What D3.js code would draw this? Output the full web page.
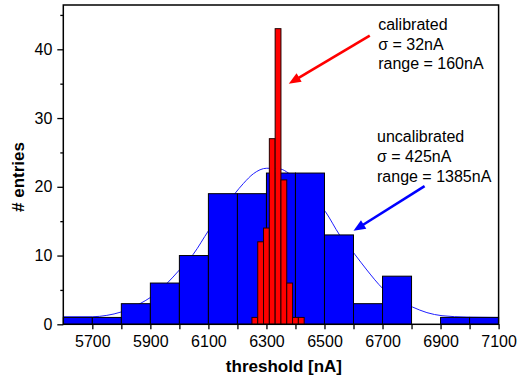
<!DOCTYPE html>
<html><head><meta charset="utf-8">
<script src="https://cdn.jsdelivr.net/npm/d3@7"></script>
<style>body{margin:0;background:#fff}svg{display:block}text{font-family:"Liberation Sans",Arial,sans-serif}</style>
</head><body><svg id="c" width="517" height="379"></svg>
<script>
// uncalibrated histogram: bin starts (nA), width 100
const blueBins = [5600,5700,5800,5900,6000,6100,6200,6300,6400,6500,6600,6700,6800,6900,7000];
const blueCounts = [1,1,3,6,10,19,19,22,22,13,3,7,0,1,1];
// calibrated histogram: bin starts (nA), width 20
const redBins = [6250,6270,6290,6310,6330,6350,6370,6390,6410];
const redCounts = [1,12,14,27,43,21,6,1,1];
// gaussian fit curve
const fitX = [5600,5700,5750,5800,5864,5900,5956,6000,6048,6100,6150,6191,6221,6255,6301,6347,6376,6420,6460,6503,6552,6604,6646,6701,6750,6804,6853,6905,6991,7100];
const fitY = [1.1,1.1,1.3,1.8,3.0,3.9,5.9,7.9,10.2,13.6,16.6,19.0,20.5,21.9,22.7,22.6,22.0,20.4,18.6,16.4,13.0,10.2,7.9,5.2,3.6,2.5,1.7,1.25,1.05,1.0];
const xTickLabels = [5700,5900,6100,6300,6500,6700,6900,7100];
const xMinorTicks = [5800,6000,6200,6400,6600,6800,7000];
const yTickLabels = [0,10,20,30,40];
const yMinorTicks = [5,15,25,35,45];
const blueWidth = 100, redWidth = 20;

const svg = d3.select("#c");
const L = 63.3, R = 498.6, T = 5, B = 324.3;
const x = d3.scaleLinear().domain([5600,7100]).range([L,R]);
const y = d3.scaleLinear().domain([0,40]).range([B,49.3]);

// fit curve (behind bars)
const line = d3.line().x(d=>x(d[0])).y(d=>y(d[1])).curve(d3.curveMonotoneX);
svg.append("path").datum(fitX.map((v,i)=>[v,fitY[i]]))
  .attr("d",line).attr("fill","none").attr("stroke","#1f1fff").attr("stroke-width",1);

// blue bars
svg.append("g").selectAll("rect").data(blueBins.map((b,i)=>({b,c:blueCounts[i]})).filter(d=>d.c>0))
  .join("rect")
  .attr("x",d=>x(d.b)).attr("width",d=>x(d.b+blueWidth)-x(d.b))
  .attr("y",d=>y(d.c)).attr("height",d=>y(0)-y(d.c))
  .attr("fill","#0000ff").attr("stroke","#000").attr("stroke-width",1);

// red bars
svg.append("g").selectAll("rect").data(redBins.map((b,i)=>({b,c:redCounts[i]})))
  .join("rect")
  .attr("x",d=>x(d.b)).attr("width",d=>x(d.b+redWidth)-x(d.b))
  .attr("y",d=>y(d.c)).attr("height",d=>y(0)-y(d.c))
  .attr("fill","#ff0000").attr("stroke","#200000").attr("stroke-width",1);

// frame
svg.append("rect").attr("x",L).attr("y",T).attr("width",R-L).attr("height",B-T)
  .attr("fill","none").attr("stroke","#000").attr("stroke-width",1.5);

// x axis
const xAxis = d3.axisBottom(x).tickValues(xTickLabels).tickSize(5).tickPadding(6).tickFormat(d3.format("d"));
const gx = svg.append("g").attr("transform",`translate(0,${B})`).call(xAxis);
gx.select(".domain").remove();
gx.selectAll("text").attr("font-size",16).attr("fill","#000").attr("font-family","Liberation Sans, Arial, sans-serif");
gx.selectAll("line").attr("stroke-width",1.3);
const gxm = svg.append("g").attr("transform",`translate(0,${B})`).call(d3.axisBottom(x).tickValues(xMinorTicks).tickSize(5).tickFormat(""));
gxm.select(".domain").remove();
gxm.selectAll("line").attr("stroke-width",1.3);

// y axis
const yAxis = d3.axisLeft(y).tickValues(yTickLabels).tickSize(6).tickPadding(5);
const gy = svg.append("g").attr("transform",`translate(${L},0)`).call(yAxis);
gy.select(".domain").remove();
gy.selectAll("text").attr("font-size",16).attr("fill","#000").attr("font-family","Liberation Sans, Arial, sans-serif");
gy.selectAll("line").attr("stroke-width",1.3);
const gym = svg.append("g").attr("transform",`translate(${L},0)`).call(d3.axisLeft(y).tickValues(yMinorTicks).tickSize(3).tickFormat(""));
gym.select(".domain").remove();
gym.selectAll("line").attr("stroke-width",1.3);

// axis titles
svg.append("text").attr("x",(L+R)/2+3).attr("y",372).attr("text-anchor","middle")
  .attr("font-size",17).attr("font-weight","bold").text("threshold [nA]");
svg.append("text").attr("transform",`translate(23.5,177) rotate(-90)`).attr("text-anchor","middle")
  .attr("font-size",17).attr("font-weight","bold").text("# entries");

// annotations
function arrow(x1,y1,x2,y2,color){
  const dx=x2-x1, dy=y2-y1, len=Math.hypot(dx,dy), ux=dx/len, uy=dy/len;
  const hl=12, hw=5;
  const bx=x2-ux*hl, by=y2-uy*hl;
  svg.append("line").attr("x1",x1).attr("y1",y1).attr("x2",bx+ux*2).attr("y2",by+uy*2)
    .attr("stroke",color).attr("stroke-width",2.6);
  svg.append("path").attr("d",`M${x2},${y2}L${bx-uy*hw},${by+ux*hw}L${bx+uy*hw},${by-ux*hw}Z`).attr("fill",color);
}
arrow(x(6656),y(42.0),x(6377),y(35.0),"#ff0000");
arrow(x(6845),y(20.1),x(6600),y(13.6),"#0000ff");

const calib = ["calibrated","σ = 32nA","range = 160nA"];
const uncal = ["uncalibrated","σ = 425nA","range = 1385nA"];
svg.append("g").selectAll("text").data(calib).join("text")
  .attr("x",x(6685)).attr("y",(d,i)=>y(42.8)+i*19.5).attr("font-size",16).text(d=>d);
svg.append("g").selectAll("text").data(uncal).join("text")
  .attr("x",x(6681)).attr("y",(d,i)=>y(26.56)+i*20).attr("font-size",16).text(d=>d);
</script></body></html>
